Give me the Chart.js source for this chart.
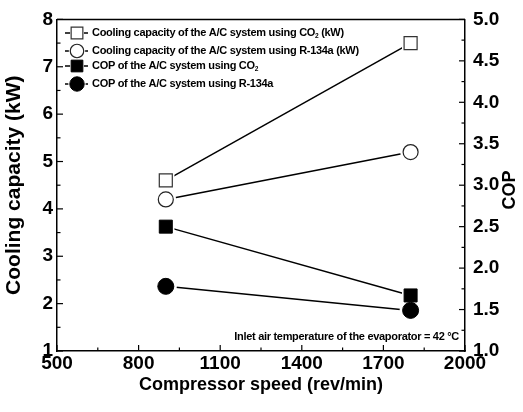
<!DOCTYPE html>
<html><head><meta charset="utf-8">
<script src="https://cdn.jsdelivr.net/npm/chart.js@4.4.1/dist/chart.umd.min.js"></script>
<style>html,body{margin:0;padding:0;background:#fff}#wrap{width:523px;height:412px}</style>
</head><body><div id="wrap"><canvas id="c" width="523" height="412"></canvas></div>
<script>
// ---- data ----
const speeds = [900, 1800];
const capCO2 = [4.6, 7.5];
const capR134a = [4.2, 5.2];
const copCO2 = [2.5, 1.67];
const copR134a = [1.78, 1.49];
const seriesLabels = [
  'Cooling capacity of the A/C system using CO\u2082 (kW)',
  'Cooling capacity of the A/C system using R-134a (kW)',
  'COP of the A/C system using CO\u2082',
  'COP of the A/C system using R-134a'
];
const xTicks = [500, 800, 1100, 1400, 1700, 2000];
const yLeftTicks = [1, 2, 3, 4, 5, 6, 7, 8];
const yRightTicks = [1.0, 1.5, 2.0, 2.5, 3.0, 3.5, 4.0, 4.5, 5.0];
const xTitle = 'Compressor speed (rev/min)';
const yLeftTitle = 'Cooling capacity (kW)';
const yRightTitle = 'COP';
const noteText = 'Inlet air temperature of the evaporator = 42 \u00B0C';

const FONT = "'Liberation Sans', Arial, sans-serif";
const tickFont = {family: FONT, size: 19, weight: 'bold'};
const titleFont = {family: FONT, size: 18, weight: 'bold'};
const leftTitleFont = {family: FONT, size: 21, weight: 'bold'};

function pts(xs, ys) { return xs.map((x, i) => ({x: x, y: ys[i]})); }

const styles = [
  {pointStyle: 'rect', radius: 9.2, bg: '#fff', border: '#333', bw: 1.2, axis: 'y'},
  {pointStyle: 'circle', radius: 7.5, bg: '#fff', border: '#222', bw: 1.2, axis: 'y'},
  {pointStyle: 'rect', radius: 9.2, bg: '#000', border: '#000', bw: 1, axis: 'y2'},
  {pointStyle: 'circle', radius: 8, bg: '#000', border: '#000', bw: 1, axis: 'y2'}
];
const seriesData = [capCO2, capR134a, copCO2, copR134a];

const datasets = seriesData.map((d, i) => ({
  label: seriesLabels[i],
  data: pts(speeds, d),
  yAxisID: styles[i].axis,
  borderColor: '#000',
  borderWidth: 1.5,
  pointStyle: styles[i].pointStyle,
  pointRadius: styles[i].radius,
  pointHoverRadius: styles[i].radius,
  pointBackgroundColor: styles[i].bg,
  pointBorderColor: styles[i].border,
  pointBorderWidth: styles[i].bw,
  fill: false,
  tension: 0
}));

function drawMarker(ctx, style, r, x, y, fill, stroke, lw) {
  ctx.save();
  ctx.beginPath();
  if (style === 'rect') {
    const s = Math.SQRT1_2 * r;
    ctx.rect(x - s, y - s, 2 * s, 2 * s);
  } else {
    ctx.arc(x, y, r, 0, Math.PI * 2);
  }
  ctx.fillStyle = fill; ctx.fill();
  if (lw > 0) { ctx.lineWidth = lw; ctx.strokeStyle = stroke; ctx.stroke(); }
  ctx.restore();
}

// white gap around markers, then redraw markers
const haloPlugin = {
  id: 'halo',
  afterDatasetsDraw(chart) {
    const ctx = chart.ctx;
    chart.data.datasets.forEach((ds, i) => {
      const meta = chart.getDatasetMeta(i);
      meta.data.forEach(el => drawMarker(ctx, styles[i].pointStyle, styles[i].radius + 3, el.x, el.y, '#fff', '#fff', 0));
    });
    chart.data.datasets.forEach((ds, i) => {
      const meta = chart.getDatasetMeta(i);
      meta.data.forEach(el => drawMarker(ctx, styles[i].pointStyle, styles[i].radius, el.x, el.y, styles[i].bg, styles[i].border, styles[i].bw));
    });
  }
};

function drawRichText(ctx, text, x, y, size) {
  const parts = text.split('\u2082');
  let cx = x;
  parts.forEach((p, idx) => {
    ctx.font = 'bold ' + size + 'px ' + FONT;
    ctx.fillText(p, cx, y);
    cx += ctx.measureText(p).width;
    if (idx < parts.length - 1) {
      ctx.font = 'bold ' + (size * 0.6) + 'px ' + FONT;
      ctx.fillText('2', cx, y + 3);
      cx += ctx.measureText('2').width;
    }
  });
}

const decoPlugin = {
  id: 'deco',
  afterDraw(chart) {
    const ctx = chart.ctx;
    const a = chart.chartArea;
    const sx = chart.scales.x, sy = chart.scales.y, sy2 = chart.scales.y2;
    ctx.save();
    ctx.strokeStyle = '#000';
    ctx.lineWidth = 1.5;
    ctx.beginPath(); ctx.moveTo(a.left, a.top); ctx.lineTo(a.right, a.top); ctx.stroke();
    ctx.lineWidth = 1.2;
    const MAJ = 6, MIN = 3.5;
    for (let i = 0; i < xTicks.length; i++) {
      let px = sx.getPixelForValue(xTicks[i]);
      ctx.beginPath(); ctx.moveTo(px, a.bottom); ctx.lineTo(px, a.bottom - MAJ); ctx.stroke();
      if (i < xTicks.length - 1) {
        px = sx.getPixelForValue((xTicks[i] + xTicks[i + 1]) / 2);
        ctx.beginPath(); ctx.moveTo(px, a.bottom); ctx.lineTo(px, a.bottom - MIN); ctx.stroke();
      }
    }
    for (let i = 0; i < yLeftTicks.length; i++) {
      let py = sy.getPixelForValue(yLeftTicks[i]);
      ctx.beginPath(); ctx.moveTo(a.left, py); ctx.lineTo(a.left + MAJ, py); ctx.stroke();
      if (i < yLeftTicks.length - 1) {
        py = sy.getPixelForValue((yLeftTicks[i] + yLeftTicks[i + 1]) / 2);
        ctx.beginPath(); ctx.moveTo(a.left, py); ctx.lineTo(a.left + MIN, py); ctx.stroke();
      }
    }
    for (let i = 0; i < yRightTicks.length; i++) {
      let py = sy2.getPixelForValue(yRightTicks[i]);
      ctx.beginPath(); ctx.moveTo(a.right, py); ctx.lineTo(a.right - MAJ, py); ctx.stroke();
      if (i < yRightTicks.length - 1) {
        py = sy2.getPixelForValue((yRightTicks[i] + yRightTicks[i + 1]) / 2);
        ctx.beginPath(); ctx.moveTo(a.right, py); ctx.lineTo(a.right - MIN, py); ctx.stroke();
      }
    }
    // right axis title
    ctx.save();
    ctx.translate(510, 190);
    ctx.rotate(-Math.PI / 2);
    ctx.font = 'bold 18px ' + FONT;
    ctx.fillStyle = '#000';
    ctx.textAlign = 'center';
    ctx.textBaseline = 'middle';
    ctx.fillText(yRightTitle, 0, 0);
    ctx.restore();
    // legend
    const rows = [33, 51, 66, 84];
    const lx = a.left + 20;
    ctx.fillStyle = '#000';
    ctx.textBaseline = 'middle';
    ctx.textAlign = 'left';
    try { ctx.letterSpacing = '-0.3px'; } catch (e) {}
    chart.data.datasets.forEach((ds, i) => {
      const y = rows[i];
      ctx.strokeStyle = '#000'; ctx.lineWidth = 1.5;
      ctx.beginPath(); ctx.moveTo(lx - 12, y); ctx.lineTo(lx + 11, y); ctx.stroke();
      const r = styles[i].radius * 0.9;
      drawMarker(ctx, styles[i].pointStyle, r + 1.5, lx, y, '#fff', '#fff', 0);
      drawMarker(ctx, styles[i].pointStyle, r, lx, y, styles[i].bg, styles[i].border, styles[i].bw);
      ctx.fillStyle = '#000';
      drawRichText(ctx, ds.label, lx + 15, y, 11);
    });
    ctx.font = 'bold 11px ' + FONT;
    ctx.textAlign = 'right';
    ctx.fillText(noteText, a.right - 6, a.bottom - 14);
    ctx.restore();
  }
};

new Chart(document.getElementById('c'), {
  type: 'line',
  data: {datasets: datasets},
  options: {
    responsive: false,
    animation: false,
    events: [],
    layout: {padding: {top: 17, left: 0, right: 0, bottom: 0}},
    plugins: {legend: {display: false}, tooltip: {enabled: false}},
    scales: {
      x: {
        type: 'linear', min: 500, max: 2000,
        afterBuildTicks: s => { s.ticks = xTicks.map(v => ({value: v})); },
        ticks: {font: tickFont, color: '#000', padding: 1, maxRotation: 0, autoSkip: false, callback: v => String(v)},
        grid: {display: false, drawTicks: false},
        border: {display: true, color: '#000', width: 1.5},
        title: {display: true, text: xTitle, font: titleFont, color: '#000', padding: {top: 0, bottom: 16}},
        afterFit: s => { s.height = 61; }
      },
      y: {
        type: 'linear', position: 'left', min: 1, max: 8,
        afterBuildTicks: s => { s.ticks = yLeftTicks.map(v => ({value: v})); },
        ticks: {font: tickFont, color: '#000', padding: 4, autoSkip: false, callback: v => String(v)},
        grid: {display: false, drawTicks: false},
        border: {display: true, color: '#000', width: 1.5},
        title: {display: true, text: yLeftTitle, font: leftTitleFont, color: '#000', padding: {top: 2, bottom: 0}},
        afterFit: s => { s.width = 57; }
      },
      y2: {
        type: 'linear', position: 'right', min: 1, max: 5,
        afterBuildTicks: s => { s.ticks = yRightTicks.map(v => ({value: v})); },
        ticks: {font: tickFont, color: '#000', padding: 8, autoSkip: false, callback: v => Number(v).toFixed(1)},
        grid: {display: false, drawTicks: false},
        border: {display: true, color: '#000', width: 1.5},
        title: {display: false},
        afterFit: s => { s.width = 58; }
      }
    }
  },
  plugins: [haloPlugin, decoPlugin]
});
</script>
</body></html>
